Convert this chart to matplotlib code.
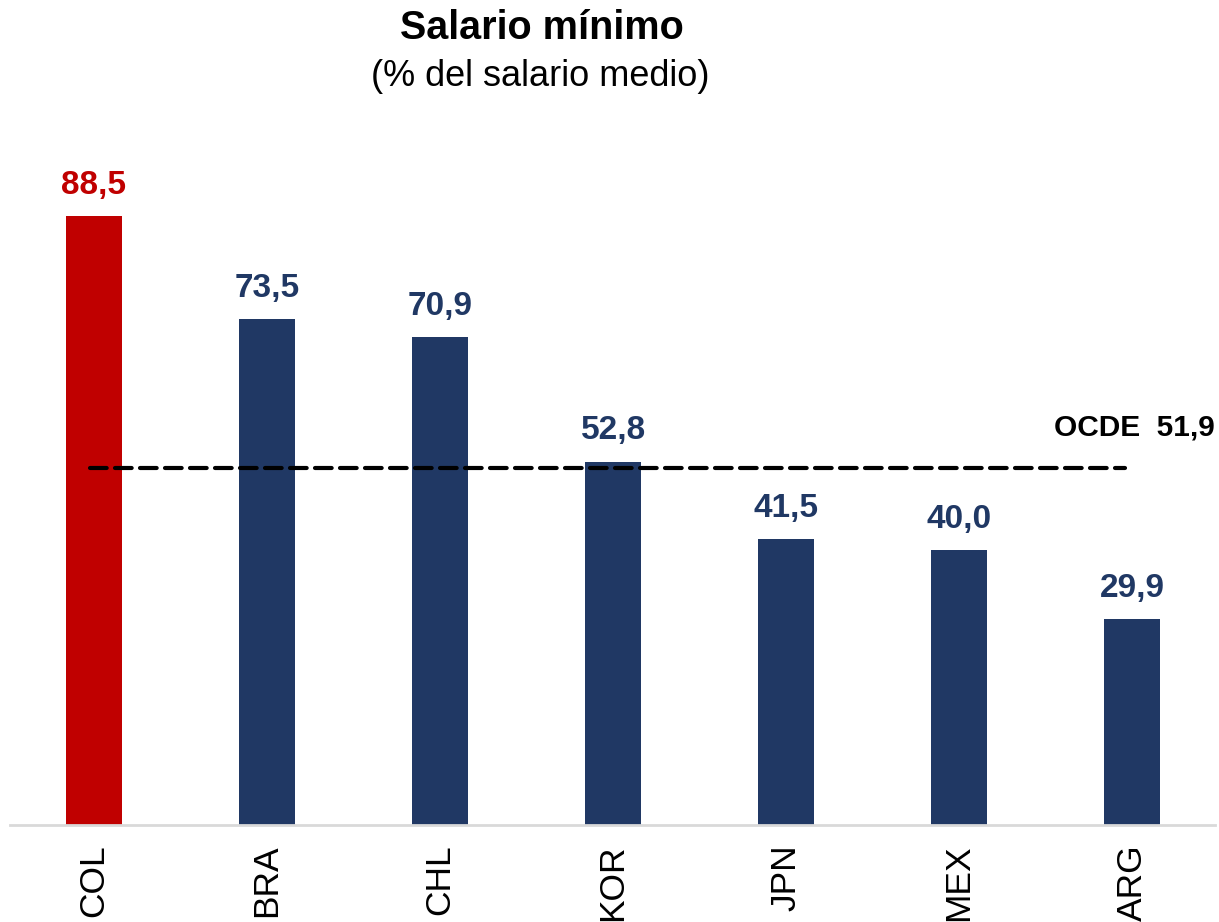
import matplotlib
matplotlib.use("Agg")
import matplotlib.pyplot as plt

categories = ["COL", "BRA", "CHL", "KOR", "JPN", "MEX", "ARG"]
values = [88.5, 73.5, 70.9, 52.8, 41.5, 40.0, 29.9]
labels = ["88,5", "73,5", "70,9", "52,8", "41,5", "40,0", "29,9"]
ocde_value = 51.9
ocde_label = "OCDE  51,9"

RED = "#C00000"
NAVY = "#203864"

plt.rcParams["font.family"] = ["Liberation Sans", "DejaVu Sans"]

W, H = 1219, 922
fig = plt.figure(figsize=(W / 100, H / 100), dpi=100)
left_px, right_px = 10, 1215
base_px, top_px = 825, 100
px_per_unit = 6.88
ax = fig.add_axes([left_px / W, (H - base_px) / H, (right_px - left_px) / W, (base_px - top_px) / H])

x = list(range(len(categories)))
colors = [RED] + [NAVY] * (len(categories) - 1)
ax.bar(x, values, width=0.324, color=colors, zorder=2)

spacing = 173.0
ax.set_xlim((left_px - 94) / spacing, (right_px - 94) / spacing)
ax.set_ylim(0, (base_px - top_px) / px_per_unit)

for xi, v, lab, c in zip(x, values, labels, colors):
    ax.annotate(lab, (xi, v), xytext=(0, 11), textcoords="offset points",
                ha="center", va="bottom", fontsize=24, fontweight="bold", color=c)

ax.plot([(90 - 94) / spacing, (1125 - 94) / spacing], [ocde_value, ocde_value],
        color="black", linewidth=3, dashes=(4, 2), solid_capstyle="round",
        dash_capstyle="round", zorder=3)
ax.text(1.0, (base_px - 435) / px_per_unit, ocde_label, transform=ax.get_yaxis_transform(),
        ha="right", va="baseline", fontsize=21.5, fontweight="bold", color="black")

for s in ["top", "right", "left"]:
    ax.spines[s].set_visible(False)
ax.spines["bottom"].set_color("#D9D9D9")
ax.spines["bottom"].set_linewidth(2)
ax.set_yticks([])
ax.set_xticks(x)
ax.set_xticklabels(categories, rotation=90, fontsize=25.5, va="top")
ax.tick_params(axis="x", length=0, pad=14)

fig.text(542 / W, 1 - 39 / H, "Salario mínimo", ha="center", va="baseline",
         fontsize=28.5, fontweight="bold")
fig.text(540 / W, 1 - 86 / H, "(% del salario medio)", ha="center", va="baseline",
         fontsize=26)

fig.savefig("out.png", dpi=100)
